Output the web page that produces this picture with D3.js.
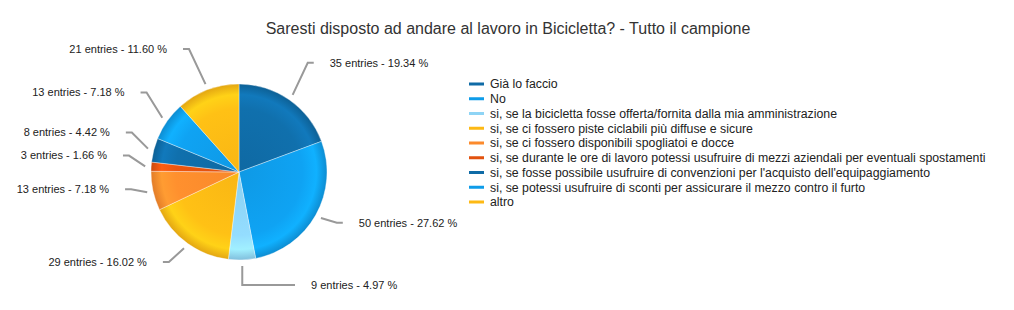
<!DOCTYPE html>
<meta charset="utf-8">
<style>
  body { margin: 0; background: #fff; }
  svg { font-family: "Liberation Sans", Arial, sans-serif; }
  .title { font-size: 16px; fill: #333; }
  .lbl { font-size: 11px; fill: #222; }
  .leg { font-size: 12.3px; fill: #222; }
  .callout { fill: none; stroke: #999; stroke-width: 2; }
</style>
<body>
<svg width="1014" height="310"></svg>
<script src="https://d3js.org/d3.v7.min.js"></script>
<script>
  var categories = [
    "Già lo faccio",
    "No",
    "si, se la bicicletta fosse offerta/fornita dalla mia amministrazione",
    "si, se ci fossero piste ciclabili più diffuse e sicure",
    "si, se ci fossero disponibili spogliatoi e docce",
    "si, se durante le ore di lavoro potessi usufruire di mezzi aziendali per eventuali spostamenti",
    "si, se fosse possibile usufruire di convenzioni per l'acquisto dell'equipaggiamento",
    "si, se potessi usufruire di sconti per assicurare il mezzo contro il furto",
    "altro"
  ];
  var counts = [35, 50, 9, 29, 13, 3, 8, 13, 21];
  var colors = ["#0f6ba6", "#0e9ce9", "#8ed4f5", "#fdb914", "#fc8a2c", "#e2520e", "#0f6ba6", "#0e9ce9", "#fdb914"];
  var title = "Saresti disposto ad andare al lavoro in Bicicletta? - Tutto il campione";

  var svg = d3.select("svg");
  var cx = 239, cy = 172, r = 88;
  var total = d3.sum(counts);

  svg.append("text").attr("class", "title")
    .attr("x", 508).attr("y", 34)
    .attr("text-anchor", "middle")
    .text(title);

  // radial shading for each slice colour
  var defs = svg.append("defs");
  colors.forEach(function (c, i) {
    var g = defs.append("radialGradient")
      .attr("id", "grad" + i)
      .attr("gradientUnits", "userSpaceOnUse")
      .attr("cx", 0).attr("cy", 0).attr("r", r);
    var base = d3.color(c);
    g.append("stop").attr("offset", "0%").attr("stop-color", base.darker(0.05));
    g.append("stop").attr("offset", "72%").attr("stop-color", base.brighter(0.12));
    g.append("stop").attr("offset", "88%").attr("stop-color", base.brighter(0.35));
    g.append("stop").attr("offset", "100%").attr("stop-color", base.darker(0.3));
  });

  var data = counts.map(function (v, i) { return { name: categories[i], value: v, i: i }; });
  var pie = d3.pie().sort(null).value(function (d) { return d.value; });
  var arc = d3.arc().innerRadius(0).outerRadius(r);
  var arcs = pie(data);

  var g = svg.append("g").attr("transform", "translate(" + cx + "," + cy + ")");
  g.selectAll("path.slice")
    .data(arcs)
    .enter().append("path")
    .attr("class", "slice")
    .attr("d", arc)
    .attr("fill", function (d) { return "url(#grad" + d.data.i + ")"; })
    .attr("stroke", "rgba(255,255,255,0.6)")
    .attr("stroke-width", 0.6);

  // callouts
  arcs.forEach(function (d) {
    var a = (d.startAngle + d.endAngle) / 2;
    var s = Math.sin(a), c = Math.cos(a);
    var side = s >= 0 ? 1 : -1;
    // keep labels clear of the pie near top / bottom
    var tx = side * Math.max(72, 96.6 * Math.abs(s) + 35.6);
    var ty = -9 - 122 * c;
    var p0 = [(r + 6) * s, -(r + 6) * c];
    var lineEnd = tx - side * 16;
    var elbow = [Math.abs(s) < 0.2 ? p0[0] : lineEnd - side * 6, ty];
    g.append("polyline").attr("class", "callout")
      .attr("points", [p0, elbow, [lineEnd, ty]].map(function (p) { return p.join(","); }).join(" "));
    var pct = (d.data.value / total * 100).toFixed(2);
    g.append("text").attr("class", "lbl")
      .attr("x", tx).attr("y", ty)
      .attr("dy", "0.35em")
      .attr("text-anchor", side > 0 ? "start" : "end")
      .text(d.data.value + " entries - " + pct + " %");
  });

  // legend
  var leg = svg.append("g").attr("transform", "translate(469,84)");
  var rows = leg.selectAll("g").data(categories).enter().append("g")
    .attr("transform", function (d, i) { return "translate(0," + (i * 14.75) + ")"; });
  rows.append("rect").attr("x", 0).attr("y", -1.5).attr("width", 15).attr("height", 3)
    .attr("fill", function (d, i) { return colors[i]; });
  rows.append("text").attr("class", "leg").attr("x", 21).attr("y", 0).attr("dy", "0.35em")
    .text(function (d) { return d; });
</script>
</body>
